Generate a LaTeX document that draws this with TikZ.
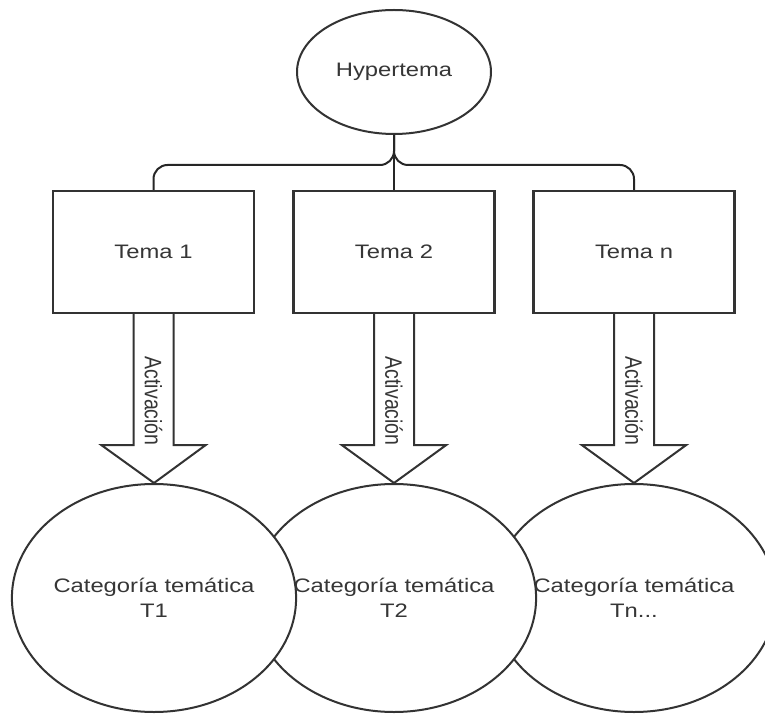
\documentclass[tikz,border=0pt]{standalone}
\usepackage{fontspec}
\setmainfont{Liberation Sans}
\usepackage{graphicx}
\usetikzlibrary{shapes.geometric,calc}
\definecolor{inkline}{HTML}{333333}
\definecolor{inktext}{HTML}{363636}
\newcommand\widetext[1]{\scalebox{1.22}[1]{#1}}
\newcommand\talltext[1]{\scalebox{1}[1.22]{#1}}
\tikzset{
  basefont/.style={font=\fontsize{19.5}{25}\selectfont, text=inktext},
  topic/.style={draw=inkline, line width=2.4pt, fill=white, minimum width=201pt,
    minimum height=122pt, inner sep=0pt, basefont},
  bubble/.style={ellipse, draw=inkline, line width=2pt, fill=white, inner sep=0pt,
    basefont, align=center},
  link/.style={draw=black!85, line width=2pt, rounded corners=14pt},
  blockarrow/.style={draw=inkline, line width=2pt, fill=white, line join=miter},
  arrowlabel/.style={basefont, rotate=-90, inner sep=0pt}
}
\begin{document}
\begin{tikzpicture}[x=1pt,y=1pt]
  \useasboundingbox (0,0) rectangle (765,713);
  \clip (0,0) rectangle (765,713);

  % root topic
  \node[bubble, minimum width=194pt, minimum height=124pt] (hyp) at (394,641)
    {\widetext{Hypertema}};

  % themes
  \node[topic] (t1) at (153.5,461) {\widetext{Tema 1}};
  \node[topic] (t2) at (394,461) {\widetext{Tema 2}};
  \node[topic] (tn) at (634,461) {\widetext{Tema n}};

  % links from the root to each theme
  \draw[link] (hyp.south) -- ++(0,-30) -| (t1.north);
  \draw[link] (hyp.south) -- ++(0,-30) -| (tn.north);
  \draw[link] (hyp.south) -- (t2.north);

  % thematic categories (drawn right to left so the left one lies on top)
  \node[bubble, minimum width=282pt, minimum height=228pt] (c3) at (634,115)
    {\widetext{Categoría temática}\\\widetext{Tn...}};
  \node[bubble, minimum width=282pt, minimum height=228pt] (c2) at (394,115)
    {\widetext{Categoría temática}\\\widetext{T2}};
  \node[bubble, minimum width=282pt, minimum height=228pt] (c1) at (154,115)
    {\widetext{Categoría temática}\\\widetext{T1}};

  % activation block arrows
  \foreach \t/\c in {t1/c1, t2/c2, tn/c3}{
    \draw[blockarrow]
      ($(\t.south)+(-20,0)$) -- ($(\t.south)+(-20,-131)$) -- ($(\t.south)+(-52,-131)$)
      -- (\c.north)
      -- ($(\t.south)+(52,-131)$) -- ($(\t.south)+(20,-131)$) -- ($(\t.south)+(20,0)$);
    \node[arrowlabel] (lab-\t) at ($(\t.south)+(0,-87)$) {\talltext{Activación}};
  }
\end{tikzpicture}
\end{document}
